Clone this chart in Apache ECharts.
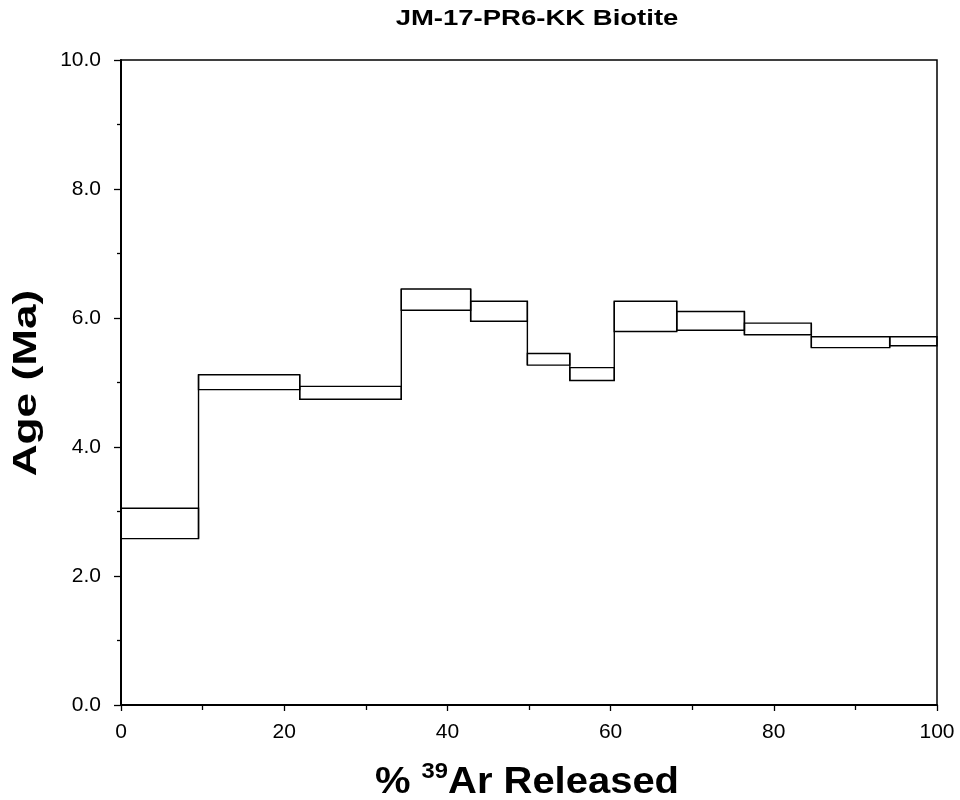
<!DOCTYPE html>
<html>
<head>
<meta charset="utf-8">
<script src="https://cdn.jsdelivr.net/npm/echarts@6/dist/echarts.min.js"></script>
<style>
  html, body { margin: 0; padding: 0; background: #fff; }
  #chart { width: 960px; height: 800px; }
</style>
</head>
<body>
<div id="chart"></div>
<script>
// cumulative % 39Ar released at each step boundary
var stepEdges = [0, 9.5, 21.9, 34.35, 42.85, 49.8, 55.0, 60.45, 68.1, 76.4, 84.6, 94.2, 100];
// age of each step, upper and lower edge of the box (Ma)
var ageHigh = [3.05, 5.12, 4.94, 6.45, 6.26, 5.45, 5.23, 6.26, 6.10, 5.92, 5.71, 5.71];
var ageLow  = [2.58, 4.89, 4.74, 6.12, 5.95, 5.27, 5.03, 5.79, 5.81, 5.74, 5.54, 5.57];

var chart = echarts.init(document.getElementById('chart'));

var boxData = [];
for (var i = 0; i < ageHigh.length; i++) {
    boxData.push([stepEdges[i], stepEdges[i + 1], ageLow[i], ageHigh[i]]);
}
// vertical lines joining neighbouring steps
var joinData = [];
for (var j = 1; j < ageHigh.length; j++) {
    joinData.push([stepEdges[j], Math.min(ageLow[j - 1], ageLow[j]), Math.max(ageHigh[j - 1], ageHigh[j])]);
}

var font = 'Liberation Sans, Arial, sans-serif';

var option = {
    backgroundColor: '#fff',
    animation: false,
    grid: {
        left: 121, right: 23, top: 60, bottom: 95,
        show: true, borderColor: '#000', borderWidth: 1.5
    },
    xAxis: {
        type: 'value', min: 0, max: 100, interval: 20,
        axisLine: { lineStyle: { color: '#000', width: 2 } },
        axisTick: { length: 6, lineStyle: { color: '#000', width: 1.3 } },
        minorTick: { show: true, splitNumber: 2, length: 5, lineStyle: { color: '#000', width: 1.3 } },
        splitLine: { show: false },
        axisLabel: { color: '#000', fontSize: 21, fontFamily: font, margin: 17 }
    },
    yAxis: {
        type: 'value', min: 0, max: 10, interval: 2,
        axisLine: { lineStyle: { color: '#000', width: 2 } },
        axisTick: { length: 7, lineStyle: { color: '#000', width: 1.3 } },
        minorTick: { show: true, splitNumber: 2, length: 4, lineStyle: { color: '#000', width: 1.3 } },
        splitLine: { show: false },
        axisLabel: {
            color: '#000', fontSize: 21, fontFamily: font, margin: 20,
            formatter: function (v) { return v.toFixed(1); }
        }
    },
    graphic: [
        {
            type: 'text', x: 537, y: 19, scaleX: 1.25,
            style: {
                text: 'JM-17-PR6-KK Biotite', fill: '#000',
                font: 'bold 22px ' + font, align: 'center', verticalAlign: 'middle'
            }
        },
        {
            type: 'text', x: 527, y: 781, scaleX: 1.08,
            style: {
                text: '{a|% }{s|39}{a|Ar Released}', fill: '#000',
                align: 'center', verticalAlign: 'middle',
                rich: {
                    a: { fontSize: 37, fontWeight: 'bold', fontFamily: font, verticalAlign: 'bottom', lineHeight: 40 },
                    s: { fontSize: 22, fontWeight: 'bold', fontFamily: font, verticalAlign: 'top', lineHeight: 40 }
                }
            }
        },
        {
            type: 'text', x: 27, y: 383, rotation: Math.PI / 2, scaleX: 1.3,
            style: {
                text: 'Age (Ma)', fill: '#000',
                font: 'bold 34px ' + font, align: 'center', verticalAlign: 'middle'
            }
        }
    ],
    series: [
        {
            type: 'custom',
            data: boxData,
            encode: { x: [0, 1], y: [2, 3] },
            renderItem: function (params, api) {
                var p0 = api.coord([api.value(0), api.value(3)]);
                var p1 = api.coord([api.value(1), api.value(2)]);
                return {
                    type: 'rect',
                    shape: { x: p0[0], y: p0[1], width: p1[0] - p0[0], height: p1[1] - p0[1] },
                    style: { fill: 'none', stroke: '#000', lineWidth: 1.4 }
                };
            }
        },
        {
            type: 'custom',
            data: joinData,
            encode: { x: 0, y: [1, 2] },
            renderItem: function (params, api) {
                var a = api.coord([api.value(0), api.value(1)]);
                var b = api.coord([api.value(0), api.value(2)]);
                return {
                    type: 'line',
                    shape: { x1: a[0], y1: a[1], x2: b[0], y2: b[1] },
                    style: { stroke: '#000', lineWidth: 1.4 }
                };
            }
        }
    ]
};

chart.setOption(option);
</script>
</body>
</html>
